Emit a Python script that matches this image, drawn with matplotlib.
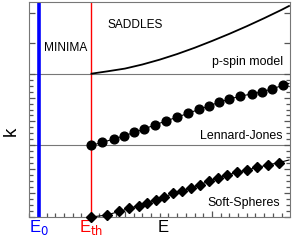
import numpy as np
import matplotlib
matplotlib.use('Agg')
import matplotlib.pyplot as plt
from matplotlib.transforms import blended_transform_factory

plt.rcParams['font.family'] = ['Liberation Sans', 'DejaVu Sans']

# energies of the lowest minimum and of the threshold
E0 = 0.015
Eth = 0.615

# p-spin model (top panel, continuous curve)
pspin_E = [0.615, 0.80, 1.00, 1.20, 1.40, 1.60, 1.80, 2.00, 2.20, 2.40, 2.60, 2.80, 2.885]
pspin_k = [2.000, 2.033, 2.071, 2.128, 2.196, 2.274, 2.361, 2.456, 2.556, 2.662, 2.774, 2.891, 2.944]

# Lennard-Jones (middle panel, circles)
lj_E = [0.615, 0.741, 0.868, 0.994, 1.109, 1.224, 1.345, 1.471, 1.598, 1.724,
        1.851, 1.966, 2.080, 2.195, 2.322, 2.460, 2.575, 2.690, 2.816]
lj_k = [1.000, 1.042, 1.087, 1.135, 1.181, 1.230, 1.285, 1.340, 1.393, 1.446,
        1.502, 1.551, 1.600, 1.645, 1.684, 1.719, 1.746, 1.788, 1.837]
lj_end = (2.885, 1.865)

# Soft-Spheres (bottom panel, diamonds)
ss_E = [0.615, 0.790, 0.934, 1.049, 1.161, 1.253, 1.351, 1.448, 1.552, 1.655,
        1.759, 1.862, 1.966, 2.069, 2.172, 2.287, 2.402, 2.517, 2.644, 2.770]
ss_k = [0.000, 0.028, 0.077, 0.119, 0.160, 0.202, 0.240, 0.279, 0.328, 0.366,
        0.407, 0.453, 0.498, 0.544, 0.586, 0.621, 0.656, 0.691, 0.726, 0.760]
ss_end = (2.885, 0.795)

grey = '#777777'

fig = plt.figure(figsize=(2.92, 2.42), dpi=100)
ax = fig.add_axes([29/292, 25/242, 260.5/292, 215/242])
ax.set_xlim(-0.1034, 2.891)
ax.set_ylim(0, 3)

# panel separators
for yy in [1, 2]:
    ax.axhline(yy, color=grey, lw=0.8, zorder=1)

ax.axvline(E0, color='#0000ff', lw=2.6, zorder=2)
ax.axvline(Eth, color='#ff0000', lw=1.0, zorder=2)

ax.plot(pspin_E, pspin_k, color='black', lw=1.3, zorder=3)

ax.plot(lj_E, lj_k, color='black', lw=0.8, marker='o', ms=6.3, zorder=4, clip_on=False)
ax.plot([lj_E[-1], lj_end[0]], [lj_k[-1], lj_end[1]], color='black', lw=0.8, zorder=3)

ax.plot(ss_E, ss_k, color='black', lw=0.8, marker='D', ms=4.6, zorder=4, clip_on=False)
ax.plot([ss_E[-1], ss_end[0]], [ss_k[-1], ss_end[1]], color='black', lw=0.8, zorder=3)

# ticks
for s in ax.spines.values():
    s.set_color(grey)
    s.set_linewidth(0.8)
ax.set_xticks([0, 1, 2])
ax.set_xticks(np.arange(-0.1, 2.89, 0.1), minor=True)
ax.set_xticklabels([])
ymaj = [0, 1/3, 2/3, 1, 4/3, 5/3, 2, 2.432, 2.842]
ymin = [i/12 for i in range(24)]
ax.set_yticks(ymaj)
ax.set_yticks(ymin, minor=True)
ax.set_yticklabels([])
ax.tick_params(axis='both', which='both', direction='in', color='#555555', width=0.9)
ax.tick_params(axis='both', which='major', length=4.5)
ax.tick_params(axis='both', which='minor', length=2.8)
ax.tick_params(axis='y', which='both', left=True, right=True)
ax.tick_params(axis='x', which='both', top=False)

# labels
tr = blended_transform_factory(ax.transData, ax.transAxes)
ax.text(E0, -0.072, r'E$_0$', color='#0000ff', fontsize=12, ha='center', va='baseline', transform=tr)
ax.text(Eth, -0.072, r'E$_{\rm th}$', color='#ff0000', fontsize=12, ha='center', va='baseline', transform=tr)
ax.text(1.437, -0.072, 'E', color='black', fontsize=12, ha='center', va='baseline', transform=tr)
ax.text(-0.05, 0.40, 'k', fontsize=13.5, rotation=90, rotation_mode='anchor',
        ha='center', va='baseline', transform=ax.transAxes)

ax.text(0.322, 2.321, 'MINIMA', fontsize=8.6, ha='center', va='baseline')
ax.text(1.115, 2.633, 'SADDLES', fontsize=8.6, ha='center', va='baseline')
ax.text(2.816, 2.12, 'p-spin model', fontsize=8.9, ha='right', va='baseline')
ax.text(2.805, 1.087, 'Lennard-Jones', fontsize=8.9, ha='right', va='baseline')
ax.text(2.782, 0.150, 'Soft-Spheres', fontsize=8.9, ha='right', va='baseline')

plt.savefig('out.png', dpi=100)
